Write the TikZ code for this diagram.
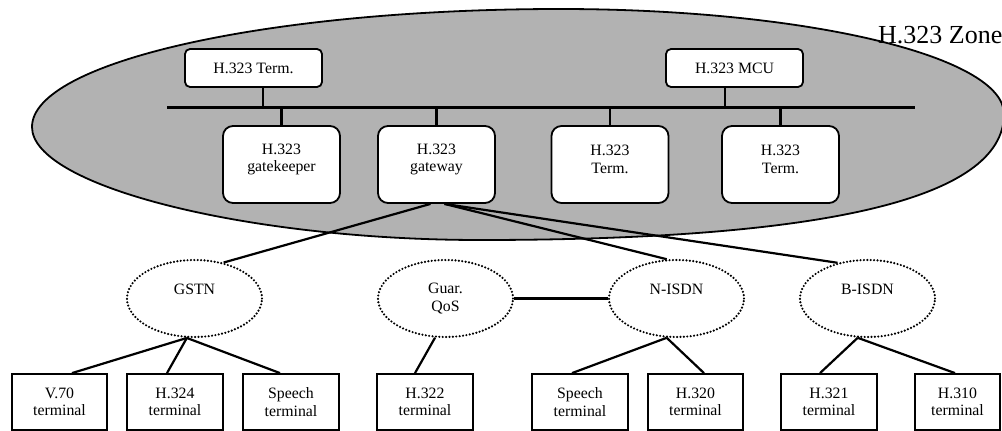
\documentclass[tikz,border=0pt]{standalone}
\usepackage{fontspec}
\setmainfont{Liberation Serif}
\usetikzlibrary{shapes.geometric,calc}
\begin{document}
\begin{tikzpicture}[x=1pt,y=-1pt,
  zone/.style={draw=black,line width=1.8pt,fill=black!30},
  topbox/.style={draw=black,line width=1.8pt,fill=white,rounded corners=5pt,minimum width=137pt,minimum height=38pt,inner sep=0pt,font=\fontsize{15.8}{17.5}\selectfont},
  rbox/.style={draw=black,line width=1.8pt,fill=white,rounded corners=10pt,minimum width=117pt,minimum height=77pt,inner sep=0pt},
  lbl/.style={align=center,inner sep=0pt,font=\fontsize{15.8}{17.5}\selectfont},
  net/.style={ellipse,draw=black,line width=2.4pt,dash pattern=on 0pt off 3.4pt,line cap=round,minimum width=135pt,minimum height=77pt,inner sep=0pt},
  tbox/.style={draw=black,line width=1.8pt,fill=white,minimum height=56pt,inner sep=0pt,align=center,font=\fontsize{15.8}{17.5}\selectfont},
  wire/.style={line width=2.2pt},
  bus/.style={line width=3pt}
]
\useasboundingbox (0,0) rectangle (1002,431);
% zone
\coordinate (zL) at (32,127);
\coordinate (zT) at (560,9);
\coordinate (zR) at (1004,114);
\coordinate (zB) at (480,240);
\draw[zone] (zL) .. controls (32,62) and (268,9) .. (zT)
  .. controls (805,9) and (1004,56) .. (zR)
  .. controls (1004,200) and (820,240) .. (zB)
  .. controls (247,240) and (32,186) .. (zL) -- cycle;
\node[anchor=base west,inner sep=0pt,font=\fontsize{26}{28}\selectfont] (zonelbl) at (878,43) {H.323 Zone};
% bus
\coordinate (busL) at (167,107);
\coordinate (busR) at (915,107);
\coordinate (tp1) at (263,107);
\coordinate (tp2) at (725,107);
\draw[bus] (busL) -- (busR);
% top boxes
\node[topbox] (t1) at (253.5,68) {H.323 Term.};
\node[topbox] (mcu) at (734.5,68) {H.323 MCU};
\draw[wire] (t1.south -| tp1) -- (tp1);
\draw[wire] (mcu.south -| tp2) -- (tp2);
% lower boxes
\node[rbox] (gk) at (281.5,164.5) {};
\node[lbl] (gkt) at ([yshift=5pt]gk.center) {H.323\\gatekeeper};
\node[rbox] (gw) at (436.5,164.5) {};
\node[lbl] (gwt) at ([yshift=5pt]gw.center) {H.323\\gateway};
\node[rbox] (t3) at (610,164.5) {};
\node[lbl] (t3t) at ([yshift=5pt]t3.center) {H.323\\Term.};
\node[rbox] (t4) at (780.5,164.5) {};
\node[lbl] (t4t) at ([yshift=5pt]t4.center) {H.323\\Term.};
\foreach \n in {gk,gw,t3,t4} \draw[wire] (\n.north) -- (\n.north |- busL);
% networks
\node[net] (gstn) at (194.5,298.5) {};
\node[lbl] (gstnt) at ([yshift=9pt]gstn.center) {GSTN};
\node[net] (qos) at (445.5,298.5) {};
\node[lbl] (qost) at (qos.center) {Guar.\\QoS};
\node[net] (nisdn) at (676.5,298.5) {};
\node[lbl] (nisdnt) at ([yshift=9pt]nisdn.center) {N-ISDN};
\node[net] (bisdn) at (867.5,298.5) {};
\node[lbl] (bisdnt) at ([yshift=9pt]bisdn.center) {B-ISDN};
% gateway links
\draw[wire] ([xshift=-6pt]gw.south) -- (gstn.51);
\draw[wire] ([xshift=8pt]gw.south) -- (nisdn.104);
\draw[wire] ([xshift=8pt]gw.south) -- (bisdn.130);
\draw[wire] (qos.east) -- (nisdn.west);
% terminals
\node[tbox,minimum width=95pt] (v70) at (59.5,402) {V.70\\terminal};
\node[tbox,minimum width=96pt] (h324) at (175,402) {H.324\\terminal};
\node[tbox,minimum width=96pt] (sp1) at (291,402) {Speech\\terminal};
\node[tbox,minimum width=96pt] (h322) at (425,402) {H.322\\terminal};
\node[tbox,minimum width=96pt] (sp2) at (580,402) {Speech\\terminal};
\node[tbox,minimum width=95pt] (h320) at (695.5,402) {H.320\\terminal};
\node[tbox,minimum width=96pt] (h321) at (829,402) {H.321\\terminal};
\node[tbox,minimum width=85pt] (h310) at (957.5,402) {H.310\\terminal};
% fans
\draw[wire] (gstn.259) -- ([xshift=12.5pt]v70.north);
\draw[wire] (gstn.259) -- ([xshift=-8pt]h324.north);
\draw[wire] (gstn.259) -- ([xshift=-11pt]sp1.north);
\draw[wire] (qos.255) -- ([xshift=-10pt]h322.north);
\draw[wire] (nisdn.256) -- ([xshift=-8pt]sp2.north);
\draw[wire] (nisdn.256) -- ([xshift=8.5pt]h320.north);
\draw[wire] (bisdn.256) -- ([xshift=-9pt]h321.north);
\draw[wire] (bisdn.256) -- ([xshift=-2.5pt]h310.north);
\end{tikzpicture}
\end{document}
